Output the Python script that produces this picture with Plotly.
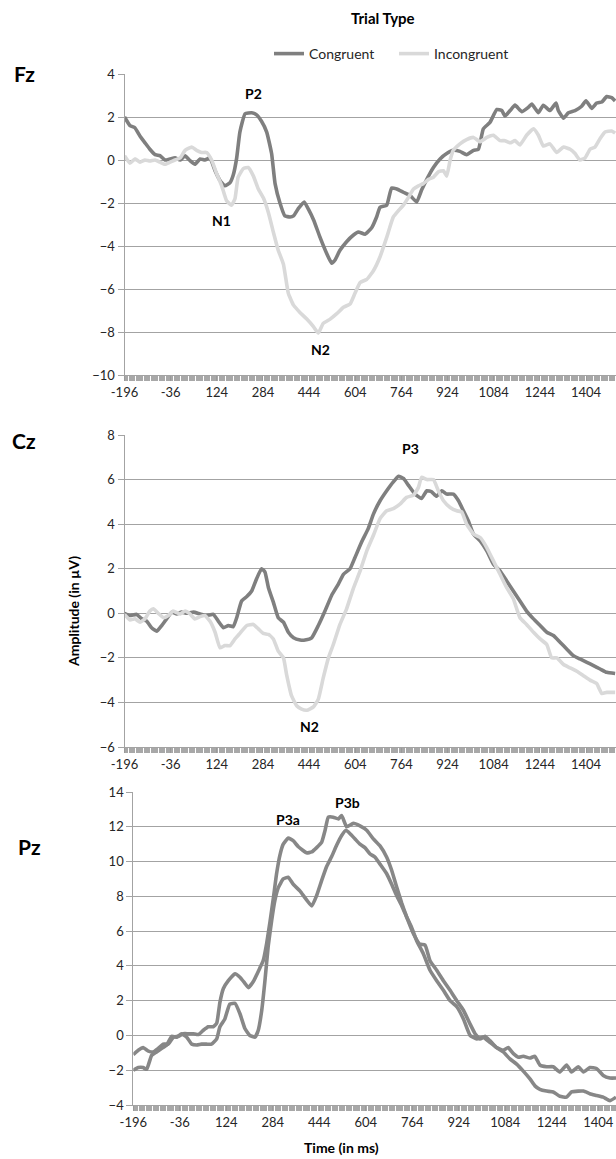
import plotly.graph_objects as go

# ---------------- data ----------------
fz_con_t = [-196,-177,-160,-142,-125,-108,-90,-73,-56,-38,-21,-3,14,31,48,66,83,100,118,135,152,170,181,193,204,222,245,262,279,297,314,326,343,360,378,390,407,427,442,460,482,505,522,534,551,574,597,615,638,661,678,690,713,730,748,771,794,817,834,852,875,898,921,944,967,990,1014,1031,1048,1071,1095,1112,1123,1141,1158,1181,1204,1216,1239,1256,1279,1300,1308,1326,1343,1366,1389,1404,1424,1441,1459,1476,1493,1505]
fz_con_v = [2.0,1.6,1.5,1.1,0.8,0.5,0.25,0.2,0.0,0.05,0.1,0.0,0.2,-0.03,-0.2,0.05,0.0,0.1,-0.5,-0.95,-1.2,-1.05,-0.7,0.1,1.3,2.15,2.2,2.1,1.8,1.3,0.3,-1.1,-2.0,-2.6,-2.65,-2.6,-2.25,-1.95,-2.3,-2.8,-3.6,-4.35,-4.8,-4.65,-4.2,-3.8,-3.5,-3.35,-3.45,-3.15,-2.65,-2.2,-2.1,-1.3,-1.35,-1.5,-1.65,-1.95,-1.4,-0.9,-0.35,0.05,0.3,0.45,0.4,0.25,0.45,0.5,1.45,1.75,2.35,2.3,2.05,2.3,2.55,2.25,2.45,2.6,2.2,2.55,2.3,2.65,2.3,1.95,2.2,2.3,2.5,2.75,2.4,2.65,2.7,2.95,2.9,2.75]

fz_inc_t = [-196,-177,-160,-142,-125,-108,-90,-73,-56,-38,-21,-3,14,37,54,71,89,106,124,141,158,175,187,198,216,233,251,268,285,303,320,337,355,372,390,413,436,459,476,493,517,540,563,586,603,621,644,667,690,713,736,754,771,788,806,823,840,858,875,892,910,921,933,944,967,990,1014,1037,1060,1083,1106,1123,1141,1158,1175,1198,1222,1239,1256,1279,1302,1326,1349,1366,1383,1401,1418,1435,1453,1470,1493,1505]
fz_inc_v = [0.2,-0.15,0.05,-0.1,0.0,-0.05,0.0,-0.1,-0.2,-0.1,0.0,0.1,0.45,0.6,0.45,0.35,0.35,0.0,-0.65,-1.2,-1.9,-2.1,-1.8,-0.8,-0.4,-0.35,-0.75,-1.35,-1.75,-2.45,-3.35,-4.2,-4.85,-6.2,-6.75,-7.1,-7.4,-7.75,-8.05,-7.6,-7.4,-7.15,-6.85,-6.7,-6.2,-5.7,-5.55,-5.15,-4.5,-3.6,-2.65,-2.35,-2.1,-1.75,-1.35,-1.2,-1.1,-0.9,-0.8,-0.55,-0.5,-0.75,0.0,0.45,0.75,0.95,1.05,0.85,1.05,1.15,0.9,0.9,0.8,0.9,0.7,1.15,1.45,1.15,0.65,0.75,0.35,0.6,0.5,0.3,0.0,0.1,0.5,0.6,1.0,1.3,1.35,1.25]

cz_con_t = [-196,-177,-154,-136,-119,-102,-84,-67,-50,-32,-15,2,20,43,66,89,112,129,147,164,181,193,210,228,245,262,279,291,303,320,337,355,372,390,413,430,453,476,499,522,545,563,586,603,626,649,667,690,713,736,754,771,788,811,834,852,869,886,904,921,944,962,979,996,1014,1037,1060,1083,1106,1129,1152,1175,1198,1222,1245,1268,1291,1314,1337,1360,1383,1407,1430,1453,1476,1505]
cz_con_v = [0.0,-0.1,-0.05,-0.25,-0.35,-0.65,-0.8,-0.55,-0.25,0.05,-0.03,0.05,0.0,0.05,-0.03,-0.1,-0.05,-0.35,-0.65,-0.55,-0.6,-0.2,0.55,0.75,1.0,1.55,2.0,1.85,1.15,0.5,-0.2,-0.4,-0.85,-1.1,-1.2,-1.2,-1.1,-0.55,0.1,0.8,1.3,1.75,2.0,2.5,3.2,3.8,4.45,5.05,5.5,5.9,6.15,6.05,5.75,5.35,5.15,5.5,5.45,5.25,5.5,5.35,5.35,5.05,4.6,4.15,3.55,3.25,2.8,2.2,1.9,1.45,1.0,0.55,0.1,-0.25,-0.55,-0.85,-1.0,-1.3,-1.6,-1.9,-2.05,-2.2,-2.35,-2.5,-2.65,-2.7]

cz_inc_t = [-196,-177,-160,-142,-125,-108,-96,-79,-61,-44,-27,-3,14,31,48,66,83,100,118,135,152,170,187,204,228,251,268,285,303,320,337,355,366,383,401,418,436,459,476,493,511,528,551,574,597,621,644,667,690,713,736,759,782,806,823,834,852,875,892,910,933,956,973,990,1014,1037,1060,1083,1106,1129,1152,1175,1198,1222,1245,1268,1285,1303,1326,1349,1372,1395,1418,1441,1459,1476,1505]
cz_inc_v = [-0.05,-0.3,-0.25,-0.4,-0.25,0.1,0.2,0.0,-0.2,-0.1,0.1,-0.03,0.1,-0.03,-0.25,-0.15,-0.1,-0.35,-0.85,-1.55,-1.45,-1.45,-1.15,-0.9,-0.55,-0.5,-0.7,-0.9,-0.95,-1.15,-1.7,-2.0,-2.75,-3.7,-4.15,-4.3,-4.35,-4.2,-3.85,-2.9,-2.0,-1.4,-0.5,0.2,1.1,1.9,2.8,3.5,4.25,4.6,4.7,4.9,5.2,5.3,5.65,6.1,6.0,6.0,5.5,5.05,4.75,4.6,4.55,4.0,3.55,3.4,2.95,2.35,1.75,1.15,0.65,-0.2,-0.5,-0.85,-1.15,-1.4,-2.0,-2.0,-2.3,-2.45,-2.6,-2.8,-3.0,-3.15,-3.6,-3.55,-3.55]

pz_a_t = [-196,-179,-162,-144,-127,-110,-93,-76,-58,-41,-24,-7,10,28,45,62,79,91,102,114,131,154,171,188,200,217,240,251,263,274,286,297,309,320,337,354,372,400,418,435,452,464,475,492,510,521,538,561,584,607,630,653,676,693,710,728,745,768,790,808,825,848,871,894,917,940,963,980,997,1014,1031,1054,1077,1094,1112,1129,1146,1169,1186,1203,1226,1249,1272,1295,1312,1335,1353,1375,1398,1421,1444,1465]
pz_a_v = [-1.1,-0.85,-0.7,-0.9,-0.95,-0.75,-0.5,-0.5,-0.1,-0.05,0.1,0.1,0.1,0.05,0.3,0.5,0.5,0.7,1.9,2.7,3.15,3.55,3.35,3.0,2.75,3.1,3.9,4.3,5.3,6.5,7.9,9.3,10.4,11.0,11.35,11.2,10.85,10.5,10.55,10.8,11.1,11.8,12.55,12.55,12.45,12.65,12.0,12.2,12.05,11.8,11.3,10.9,10.25,9.5,8.55,7.6,6.8,5.85,5.25,5.2,4.3,3.75,3.15,2.6,2.0,1.45,0.65,0.1,-0.2,-0.05,-0.3,-0.7,-0.85,-0.7,-1.05,-1.25,-1.2,-1.3,-1.2,-1.7,-1.8,-1.8,-2.1,-1.7,-2.1,-1.8,-2.1,-1.85,-1.9,-2.3,-2.45,-2.45]

pz_b_t = [-196,-179,-162,-150,-133,-116,-99,-81,-64,-47,-30,-12,5,22,39,56,73,91,102,119,136,154,171,188,205,223,234,246,257,268,280,291,303,320,337,354,378,418,435,452,469,487,504,521,536,550,567,584,601,618,636,653,676,693,710,728,745,762,779,802,825,848,871,894,917,940,963,986,1008,1031,1054,1077,1100,1123,1146,1169,1186,1203,1226,1249,1272,1295,1312,1335,1353,1375,1398,1421,1444,1465]
pz_b_v = [-2.0,-1.85,-1.85,-1.95,-1.15,-0.95,-0.75,-0.55,-0.05,-0.1,0.1,-0.1,-0.5,-0.55,-0.5,-0.5,-0.5,-0.2,0.5,0.95,1.8,1.85,1.25,0.4,0.0,-0.1,0.3,1.45,3.15,5.1,6.6,7.75,8.5,9.0,9.1,8.7,8.3,7.45,8.05,8.9,9.7,10.3,10.95,11.5,11.8,11.6,11.3,11.0,10.8,10.45,10.25,9.85,9.3,8.7,8.05,7.45,6.8,6.2,5.45,4.7,3.75,3.15,2.6,2.0,1.65,0.95,0.0,-0.2,-0.1,-0.4,-0.7,-0.95,-1.35,-1.65,-2.05,-2.5,-2.9,-3.1,-3.2,-3.25,-3.5,-3.55,-3.25,-3.2,-3.2,-3.35,-3.45,-3.55,-3.75,-3.55]

tick_vals = [-196, -36, 124, 284, 444, 604, 764, 924, 1084, 1244, 1404]
tick_text = [str(v) for v in tick_vals]

# ---------------- styling ----------------
W, H = 616, 1159
DARK = "#7f7f7f"
LIGHT = "#d9d9d9"
PZ = "#878787"
GRID = "#a3a3a3"
FONT = "Lato"

def py(px):  # pixel row -> paper fraction
    return 1 - px / H

fig = go.Figure()

def add(t, v, color, name, axis, show):
    fig.add_trace(go.Scatter(x=t, y=v, mode="lines", name=name,
                             line=dict(color=color, width=3.6, shape="spline", smoothing=0.4),
                             xaxis="x" + axis, yaxis="y" + axis,
                             showlegend=show, hoverinfo="skip"))

add(fz_con_t, fz_con_v, DARK, "Congruent", "", True)
add(fz_inc_t, fz_inc_v, LIGHT, "Incongruent", "", True)
add(cz_con_t, cz_con_v, DARK, "Congruent", "2", False)
add(cz_inc_t, cz_inc_v, LIGHT, "Incongruent", "2", False)
add(pz_a_t, pz_a_v, PZ, "Incongruent", "3", False)
add(pz_b_t, pz_b_v, PZ, "Congruent", "3", False)

def xax(domain_left, rng, anchor):
    return dict(domain=[domain_left, 1], range=rng, anchor=anchor,
                tickmode="array", tickvals=tick_vals, ticktext=tick_text,
                showgrid=False, zeroline=False, showline=True, linecolor=GRID, linewidth=1,
                ticks="outside", ticklen=5, tickcolor="#9a9a9a", tickwidth=1,
                minor=dict(ticks="outside", dtick=4, tick0=-196, ticklen=5,
                           tickcolor="#a8a8a8", tickwidth=1, showgrid=False),
                tickfont=dict(family=FONT, size=13, color="#262626"), automargin=False)

def yax(domain, rng, anchor):
    return dict(domain=domain, range=rng, anchor=anchor, dtick=2, tick0=0,
                showgrid=True, gridcolor=GRID, gridwidth=1, zeroline=False,
                showline=True, linecolor=GRID, linewidth=1,
                ticks="outside", ticklen=6, tickcolor=GRID,
                tickfont=dict(family=FONT, size=13, color="#262626"), automargin=False)

fig.update_layout(
    width=W, height=H, margin=dict(l=0, r=0, t=0, b=0),
    paper_bgcolor="white", plot_bgcolor="white",
    xaxis=xax(124.5 / W, [-196, 1508], "y"),
    yaxis=yax([py(375), py(74)], [-10, 4], "x"),
    xaxis2=xax(124.5 / W, [-196, 1508], "y2"),
    yaxis2=yax([py(747), py(435)], [-6, 8], "x2"),
    xaxis3=xax(133.3 / W, [-196, 1465], "y3"),
    yaxis3=yax([py(1105), py(792)], [-4, 14], "x3"),
    legend=dict(orientation="h", x=269 / W, xanchor="left", y=py(38), yanchor="top",
                font=dict(family=FONT, size=14, color="#262626"),
                itemwidth=30, entrywidth=80, entrywidthmode="pixels",
                tracegroupgap=0, bgcolor="rgba(0,0,0,0)"),
    showlegend=True,
)

ann = []
def label(text, x, y, size=14, xref="paper", yref="paper", angle=0):
    ann.append(dict(text=f"<b>{text}</b>", x=x, y=y, xref=xref, yref=yref,
                    xanchor="center", yanchor="middle",
                    showarrow=False, textangle=angle,
                    font=dict(family=FONT, size=size, color="black")))

label("Trial Type", 383 / W, py(17.5), size=15)
label("Fz", 24 / W, py(73), size=21)
label("Cz", 24 / W, py(441), size=21)
label("Pz", 29 / W, py(846), size=21)
label("Amplitude (in µV)", 73 / W, py(612), size=14, angle=-90)
label("Time (in ms)", 341 / W, py(1147), size=14)

# peak labels (data coordinates)
label("P2", 250, 3.1, xref="x", yref="y")
label("N1", 142, -2.8, xref="x", yref="y")
label("N2", 482, -8.8, xref="x", yref="y")
label("P3", 794, 7.4, xref="x2", yref="y2")
label("N2", 447, -5.1, xref="x2", yref="y2")
label("P3a", 337, 12.4, xref="x3", yref="y3")
label("P3b", 540, 13.4, xref="x3", yref="y3")

fig.update_layout(annotations=ann)
fig.write_html("out.html", config={"displayModeBar": False},
               post_script="document.body.style.margin='0';document.body.style.overflow='hidden';")
